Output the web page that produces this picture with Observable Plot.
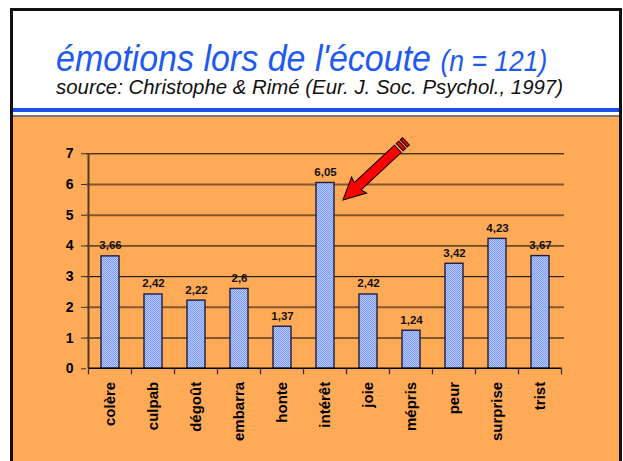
<!DOCTYPE html>
<html><head><meta charset="utf-8">
<script src="https://cdn.jsdelivr.net/npm/d3@7"></script>
<script src="https://cdn.jsdelivr.net/npm/@observablehq/plot@0.6"></script>
<style>
html,body{margin:0;padding:0;background:#fff;width:623px;height:461px;overflow:hidden;}
#frame{position:absolute;left:10px;top:8px;width:606px;height:470px;border:3px solid #111;border-bottom:none;background:#fff;overflow:hidden;}
#blue{position:absolute;left:0;top:97px;width:606px;height:4px;background:#1a50e6;}
#gray{position:absolute;left:0;top:104px;width:606px;height:2px;background:#777;}
#orange{position:absolute;left:0;top:106px;width:606px;height:400px;background:#ffaa57;}
#title{position:absolute;left:43px;top:31px;font-family:"Liberation Sans",Arial,sans-serif;font-style:italic;font-size:34px;line-height:34px;color:#1e5af0;white-space:nowrap;transform:scaleY(1.1);transform-origin:0 28px;}
#title small{font-size:26.5px;}
#subtitle{position:absolute;left:43px;top:66px;font-family:"Liberation Sans",Arial,sans-serif;font-style:italic;font-size:20.4px;line-height:20.4px;color:#111;white-space:nowrap;}
#chart{position:absolute;left:0;top:106px;}
</style></head>
<body>
<div id="frame">
  <div id="title">émotions lors de l'écoute <small>(n = 121)</small></div>
  <div id="subtitle">source: Christophe &amp; Rimé (Eur. J. Soc. Psychol., 1997)</div>
  <div id="blue"></div>
  <div id="gray"></div>
  <div id="orange"></div>
  <div id="chart"></div>
</div>
<script>
const categories = ["colère","culpab","dégoût","embarra","honte","intérêt","joie","mépris","peur","surprise","trist"];
const values = [3.66, 2.42, 2.22, 2.6, 1.37, 6.05, 2.42, 1.24, 3.42, 4.23, 3.67];
const yTicks = [0, 1, 2, 3, 4, 5, 6, 7];
const gridBlack = [3, 4, 7];
const gridBrown = [1, 2, 5, 6];
const arrowTarget = {cat: "intérêt", v: 5.48};

const data = categories.map((c, i) => ({cat: c, v: values[i], label: String(values[i]).replace(".", ",")}));

function axisLines(index, scales, values, dims) {
  const {x, y} = scales;
  const bw = x.bandwidth();
  const step = categories.length > 1 ? x(categories[1]) - x(categories[0]) : bw;
  const gap = (step - bw) / 2;
  const edges = categories.map(c => x(c) - gap).concat([x(categories[categories.length - 1]) + bw + gap]);
  const g = d3.create("svg:g");
  g.append("line").attr("x1", edges[0]).attr("x2", edges[0])
    .attr("y1", y(7)).attr("y2", y(0)).attr("stroke", "#4e3d2c").attr("stroke-width", 2);
  g.append("line").attr("x1", edges[0]).attr("x2", edges[edges.length - 1])
    .attr("y1", y(0)).attr("y2", y(0)).attr("stroke", "#000").attr("stroke-width", 1.5);
  g.selectAll("line.t").data(edges).join("line").attr("class", "t")
    .attr("x1", d => d).attr("x2", d => d).attr("y1", y(0)).attr("y2", y(0) + 6)
    .attr("stroke", "#333").attr("stroke-width", 1.3);
  return g.node();
}

function arrowMark(index, scales) {
  const {x, y} = scales;
  const tx = x(arrowTarget.cat) + x.bandwidth() + 9;
  const ty = y(arrowTarget.v);
  const g = d3.create("svg:g")
    .attr("transform", `translate(${tx},${ty}) rotate(-43)`)
    .attr("stroke", "#000").attr("stroke-width", 1).attr("fill", "#ff0000")
    .attr("stroke-linejoin", "miter");
  g.append("path").attr("d", "M0,0 L22,-11 L20,-5 L75,-5 L75,5 L20,5 L22,11 Z");
  g.append("rect").attr("x", 77.5).attr("y", -5).attr("width", 3.5).attr("height", 10);
  g.append("rect").attr("x", 83).attr("y", -5).attr("width", 3).attr("height", 10);
  return g.node();
}

const chart = Plot.plot({
  width: 606,
  height: 355,
  marginLeft: 73,
  marginRight: 55,
  marginTop: 36.3,
  marginBottom: 103.7,
  style: {background: "transparent", overflow: "visible", fontFamily: "'Liberation Sans', Arial, sans-serif", color: "#000"},
  x: {domain: categories, paddingInner: 0.58, paddingOuter: 0.29, axis: null},
  y: {domain: [0, 7], axis: null},
  marks: [
    Plot.ruleY(gridBrown, {stroke: "#83562c", strokeWidth: 2}),
    Plot.ruleY(gridBlack, {stroke: "#000", strokeWidth: 1}),
    Plot.barY(data, {x: "cat", y: "v", fill: "url(#chk)", stroke: "#1d1d3c", strokeWidth: 1.4}),
    Plot.text(data, {x: "cat", y: "v", text: "label", dy: -7, lineAnchor: "bottom", fontWeight: "bold", fontSize: 11.5, fill: "#111"}),
    Plot.axisY({ticks: yTicks, tickSize: 5, tickPadding: 8, fontSize: 14, fontWeight: "bold", stroke: "#333", fill: "#000", tickFormat: d => String(d), label: null}),
    axisLines,
    Plot.text(categories, {x: d => d, y: () => 0, text: d => d, rotate: -90, textAnchor: "end", lineAnchor: "middle", dy: 13, fontSize: 15, fontWeight: "bold", fill: "#000"}),
    arrowMark
  ]
});

const svg = d3.select(chart);
const pat = svg.insert("defs", ":first-child").append("pattern")
  .attr("id", "chk").attr("width", 2).attr("height", 2).attr("patternUnits", "userSpaceOnUse");
pat.append("rect").attr("width", 2).attr("height", 2).attr("fill", "#b4c8ff");
pat.append("rect").attr("width", 1).attr("height", 1).attr("fill", "#7f9cf2");
pat.append("rect").attr("x", 1).attr("y", 1).attr("width", 1).attr("height", 1).attr("fill", "#7f9cf2");

document.getElementById("chart").appendChild(chart);
</script>
</body></html>
